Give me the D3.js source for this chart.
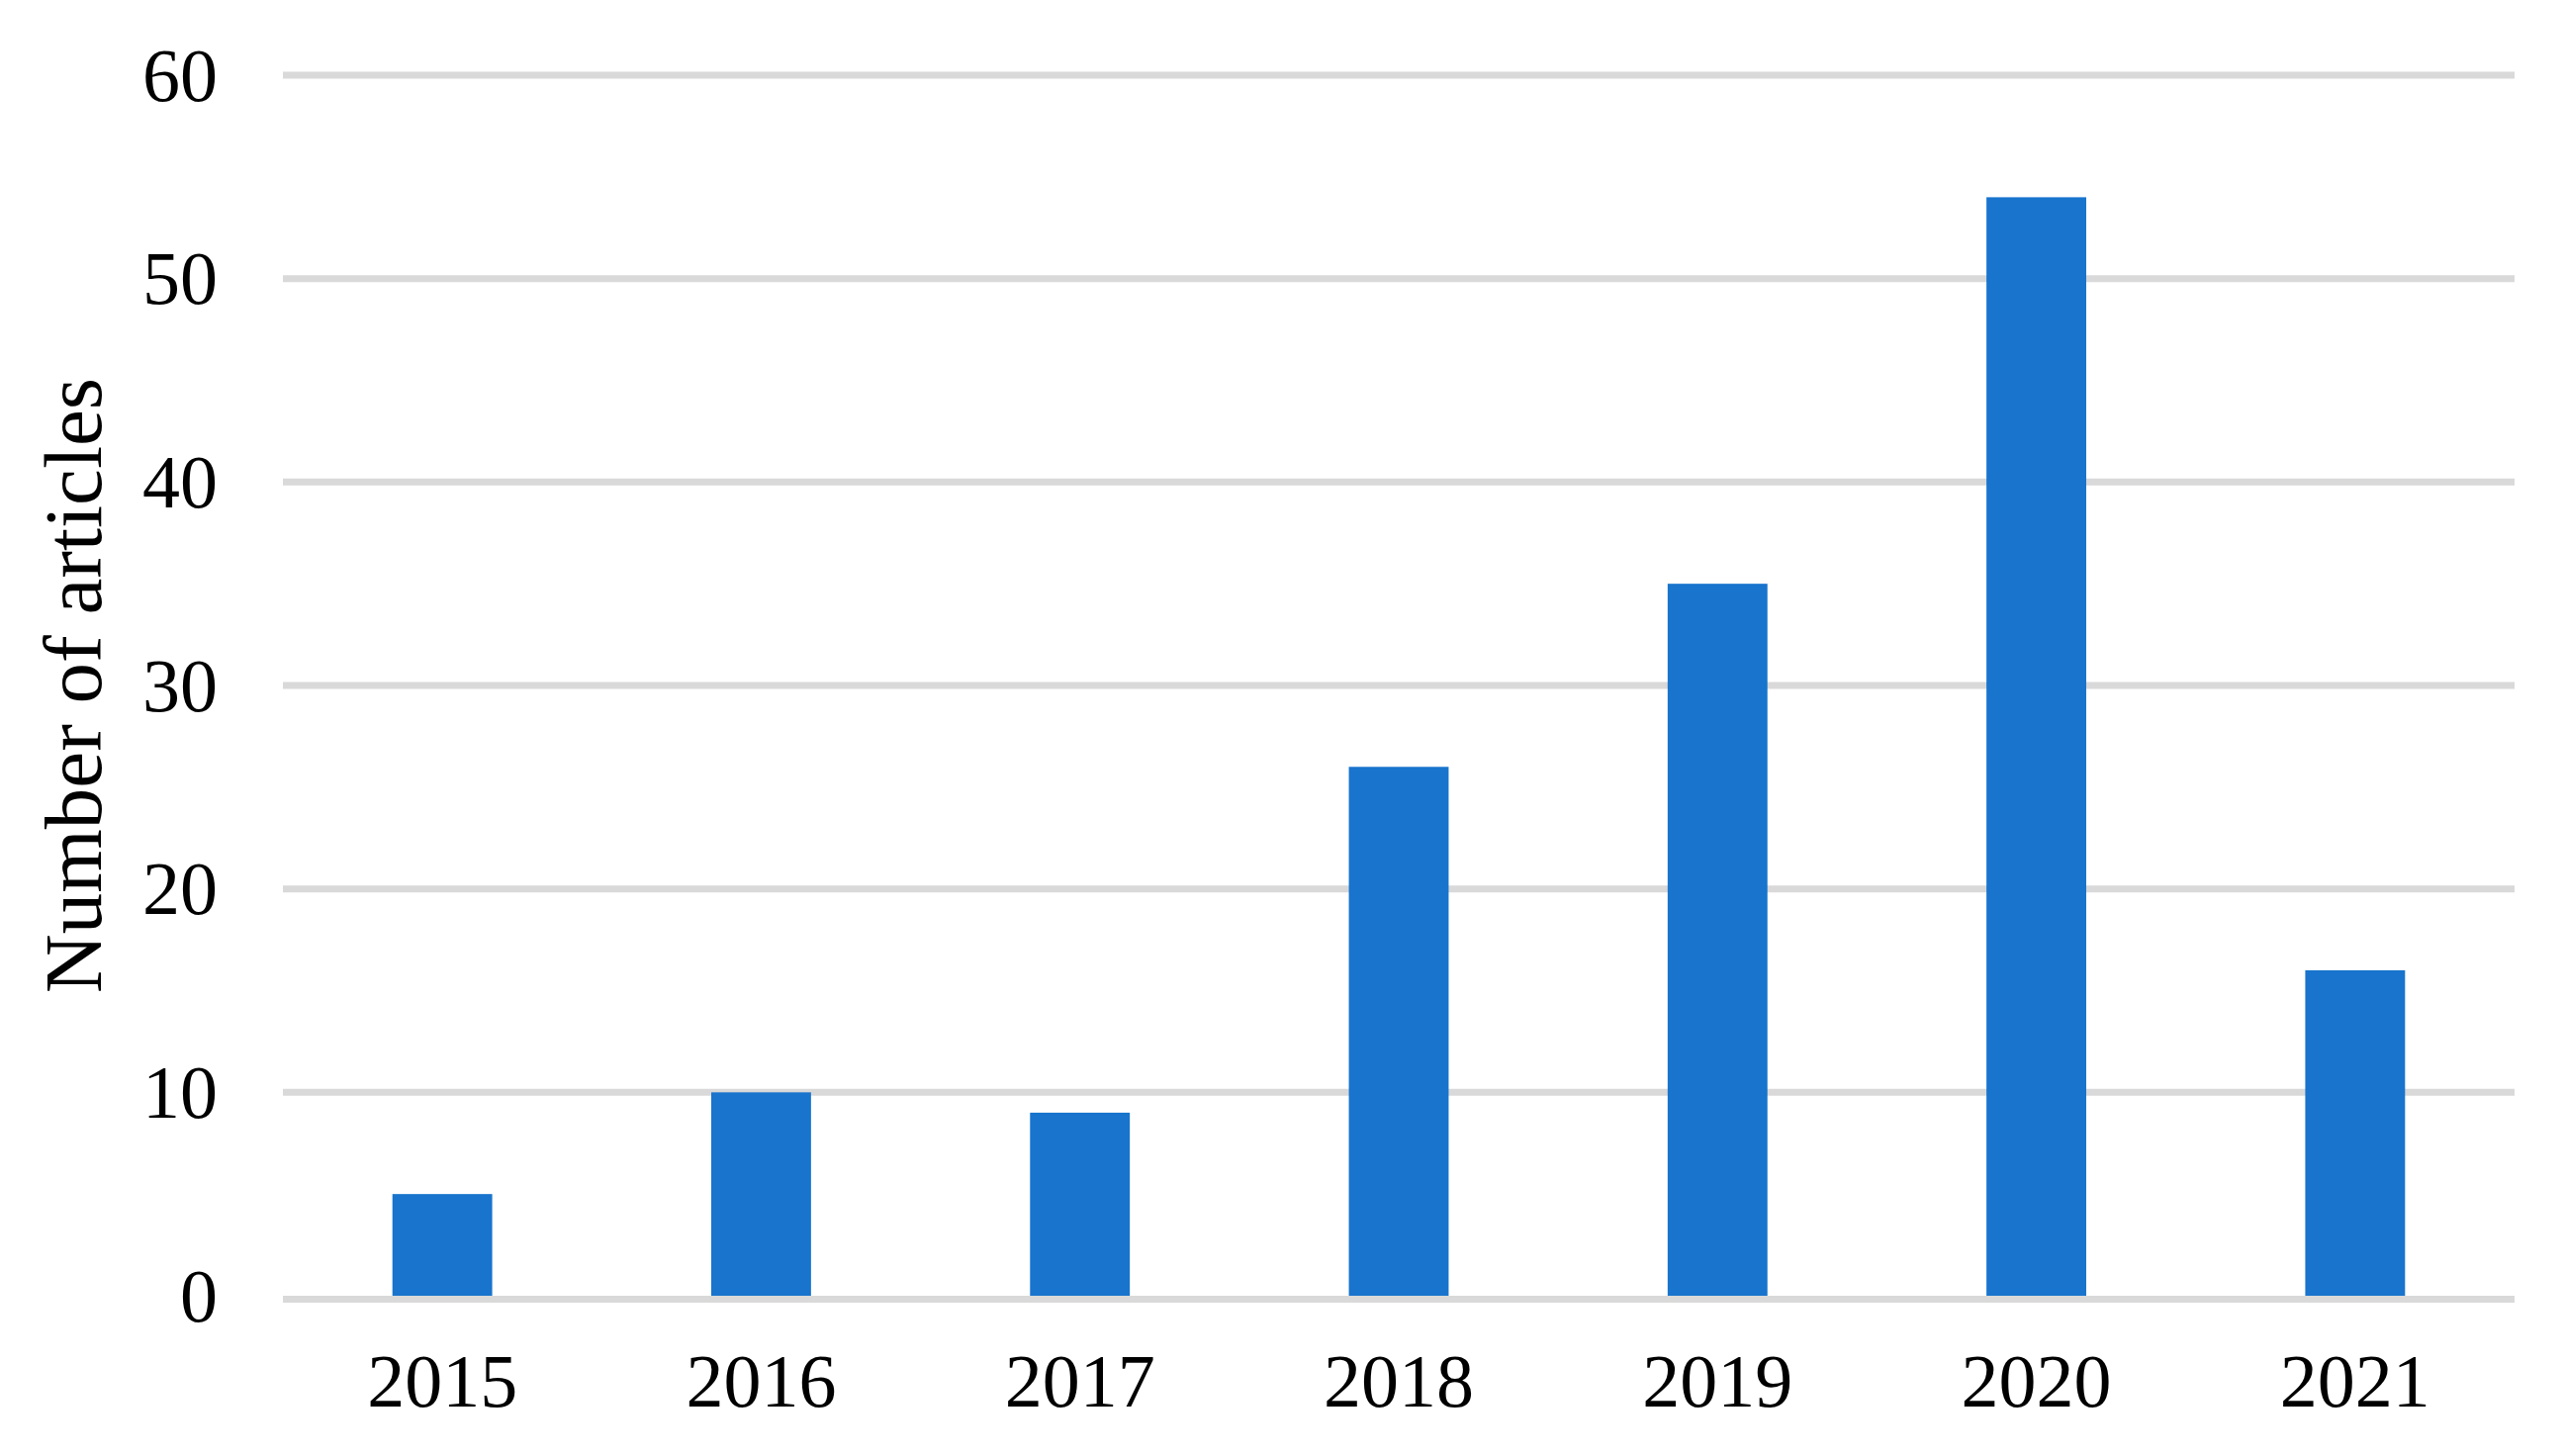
<!DOCTYPE html>
<html>
<head>
<meta charset="utf-8">
<script src="https://cdn.jsdelivr.net/npm/d3@7"></script>
<style>
  html, body { margin: 0; padding: 0; background: #fff; }
  svg { display: block; }
</style>
</head>
<body>
<div id="chart"></div>
<script>
const years = ['2015', '2016', '2017', '2018', '2019', '2020', '2021'];
const articleCounts = [5, 10, 9, 26, 35, 54, 16];
const yTicks = [0, 10, 20, 30, 40, 50, 60];
const yTitle = 'Number of articles';

const W = 2593, H = 1472;
const margin = { top: 76, right: 51, bottom: 162, left: 286 };
const width = W - margin.left - margin.right;
const height = H - margin.top - margin.bottom;
const font = '"Liberation Serif", "Times New Roman", serif';

const svg = d3.select('#chart').append('svg')
  .attr('width', W)
  .attr('height', H);

const g = svg.append('g')
  .attr('transform', `translate(${margin.left},${margin.top})`);

const x = d3.scaleBand()
  .domain(years)
  .range([0, width])
  .paddingInner(0.687)
  .paddingOuter(0.3435);

const y = d3.scaleLinear()
  .domain([0, 60])
  .range([height, 0]);

// gridlines (except zero line, drawn later over the bars)
g.selectAll('.grid')
  .data(yTicks.filter(d => d !== 0))
  .enter()
  .append('line')
  .attr('class', 'grid')
  .attr('x1', 0)
  .attr('x2', width)
  .attr('y1', d => y(d))
  .attr('y2', d => y(d))
  .attr('stroke', '#d9d9d9')
  .attr('stroke-width', 7);

// bars
g.selectAll('.bar')
  .data(years.map((yr, i) => ({ year: yr, value: articleCounts[i] })))
  .enter()
  .append('rect')
  .attr('class', 'bar')
  .attr('x', d => x(d.year))
  .attr('width', x.bandwidth())
  .attr('y', d => y(d.value))
  .attr('height', d => y(0) - y(d.value))
  .attr('fill', '#1874cd');

// zero line
g.append('line')
  .attr('x1', 0)
  .attr('x2', width)
  .attr('y1', y(0) + 3.5)
  .attr('y2', y(0) + 3.5)
  .attr('stroke', '#d9d9d9')
  .attr('stroke-width', 7);

// y axis labels
const yAxis = d3.axisLeft(y)
  .tickValues(yTicks)
  .tickSize(0)
  .tickPadding(66);

g.append('g')
  .call(yAxis)
  .call(sel => sel.select('.domain').remove())
  .selectAll('text')
  .attr('dy', '0.33em')
  .style('font-family', font)
  .style('font-size', '76px')
  .attr('fill', '#000');

// x axis labels
const xAxis = d3.axisBottom(x)
  .tickSize(0)
  .tickPadding(58);

g.append('g')
  .attr('transform', `translate(0,${height})`)
  .call(xAxis)
  .call(sel => sel.select('.domain').remove())
  .selectAll('text')
  .attr('dy', '0.71em')
  .style('font-family', font)
  .style('font-size', '76px')
  .attr('fill', '#000');

// y title
svg.append('text')
  .attr('transform', `translate(102,${margin.top + height / 2}) rotate(-90)`)
  .attr('text-anchor', 'middle')
  .style('font-family', font)
  .style('font-size', '83px')
  .attr('fill', '#000')
  .text(yTitle);
</script>
</body>
</html>
